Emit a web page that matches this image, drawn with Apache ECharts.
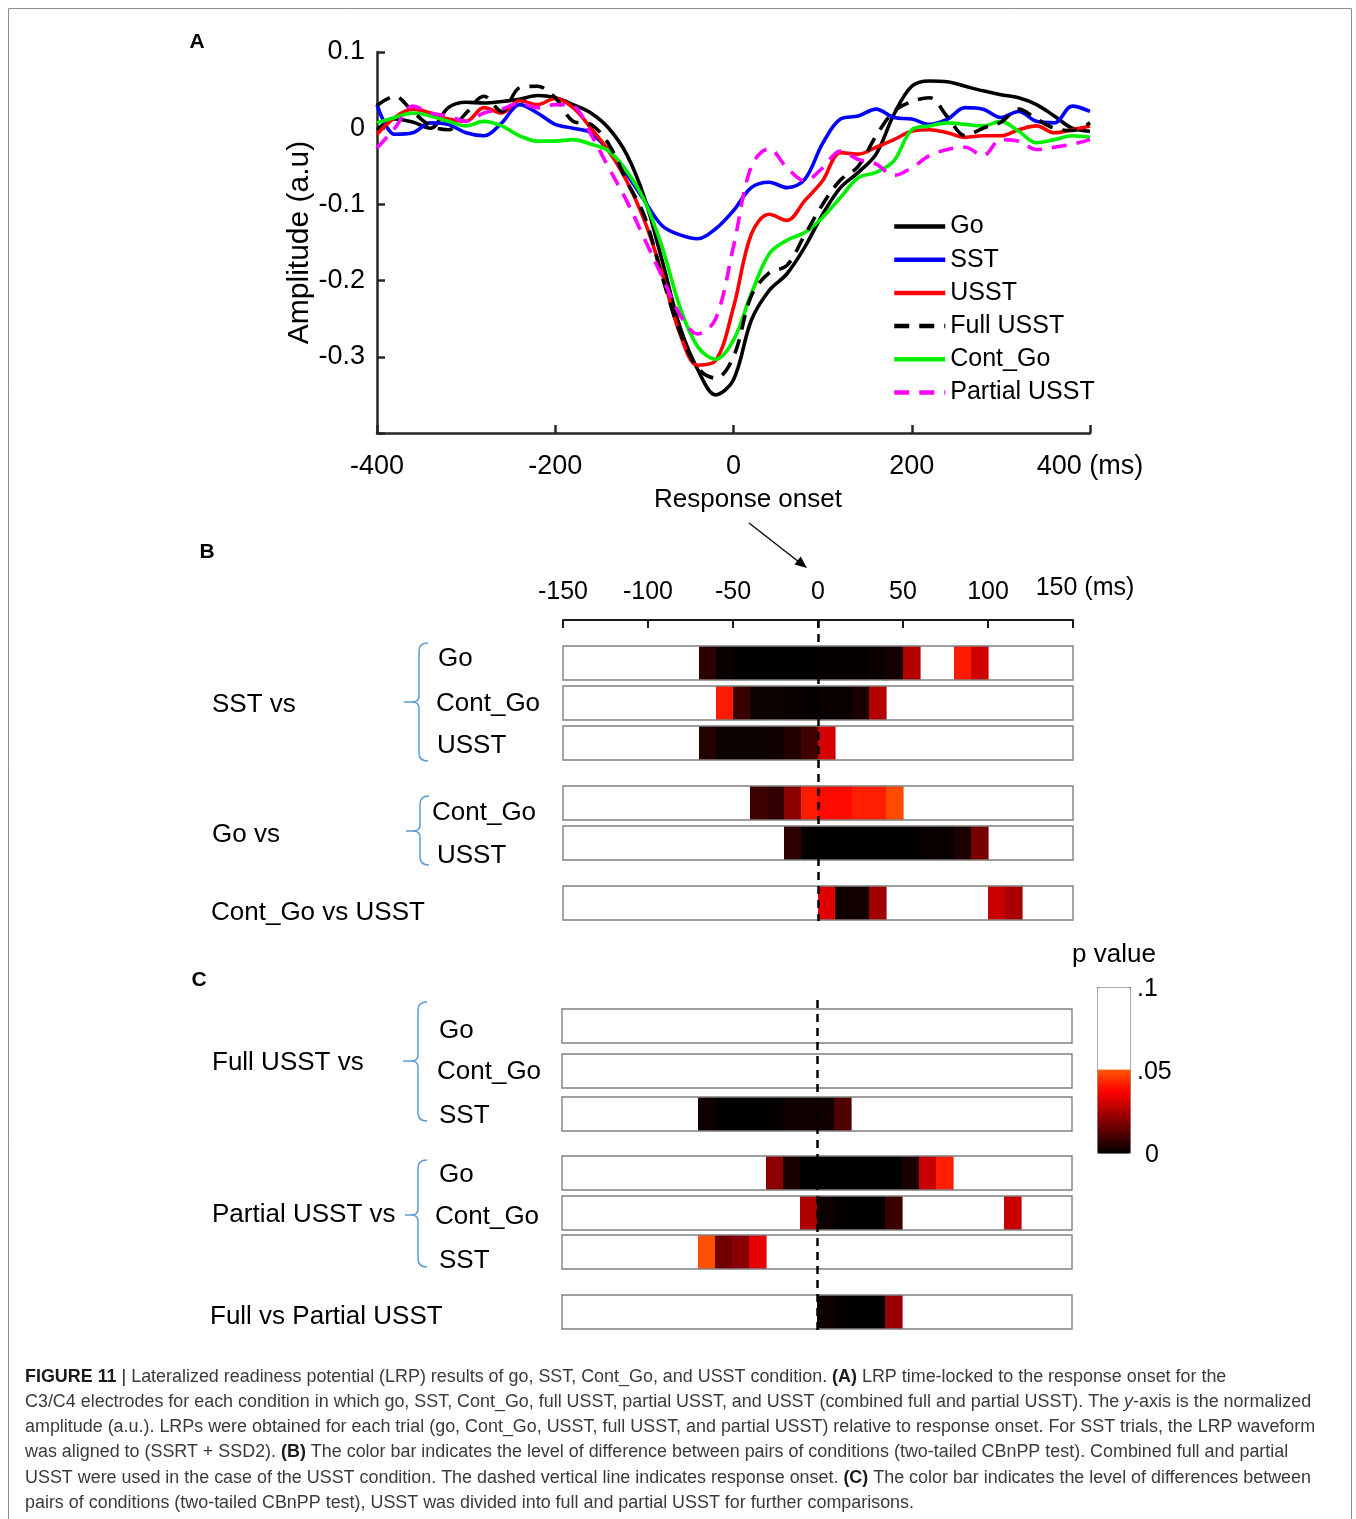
<!DOCTYPE html>
<html>
<head>
<meta charset="utf-8">
<script src="https://cdn.jsdelivr.net/npm/echarts@6/dist/echarts.min.js"></script>
<style>
  html, body { margin: 0; padding: 0; background: #ffffff; }
  #chart { width: 1356px; height: 1519px; }
</style>
</head>
<body>
<div id="chart"></div>
<script>
// ---------- Panel A: LRP waveforms (normalized amplitude), 20 ms steps ----------
const timesMs = [-400, -380, -360, -340, -320, -300, -280, -260, -240, -220, -200, -180, -160, -140, -120, -100, -80, -60, -40, -20,
  0, 20, 40, 60, 80, 100, 120, 140, 160, 180, 200, 220, 240, 260, 280, 300, 320, 340, 360, 380, 400];

const goAmp = [-0.002, 0.012, 0.008, 0.000, 0.027, 0.034, 0.033, 0.035, 0.038, 0.043, 0.040, 0.031, 0.020, 0.000, -0.034, -0.091, -0.174, -0.261, -0.317, -0.350,
  -0.330, -0.252, -0.213, -0.191, -0.156, -0.113, -0.078, -0.058, -0.034, 0.018, 0.055, 0.062, 0.061, 0.055, 0.049, 0.044, 0.040, 0.031, 0.016, 0.000, -0.004];
const sstAmp = [0.031, -0.008, -0.006, 0.007, 0.005, -0.006, -0.010, 0.007, 0.031, 0.020, 0.005, 0.000, -0.006, -0.030, -0.060, -0.095, -0.128, -0.140, -0.145, -0.132,
  -0.108, -0.078, -0.071, -0.078, -0.067, -0.020, 0.012, 0.016, 0.025, 0.014, 0.012, 0.005, 0.012, 0.027, 0.025, 0.014, 0.022, 0.009, 0.007, 0.029, 0.022];
const usstAmp = [-0.008, 0.014, 0.025, 0.020, 0.012, 0.009, 0.027, 0.020, 0.036, 0.031, 0.039, 0.027, 0.000, -0.030, -0.069, -0.121, -0.191, -0.270, -0.311, -0.305,
  -0.235, -0.139, -0.113, -0.121, -0.095, -0.069, -0.032, -0.034, -0.025, -0.015, -0.004, -0.002, -0.006, -0.012, -0.010, -0.010, -0.002, 0.003, -0.006, -0.002, 0.003];
const fullUsstAmp = [0.030, 0.042, 0.022, 0.003, -0.002, 0.020, 0.042, 0.022, 0.053, 0.055, 0.040, 0.009, 0.005, -0.021, -0.069, -0.115, -0.195, -0.268, -0.315, -0.328,
  -0.300, -0.220, -0.190, -0.180, -0.140, -0.100, -0.068, -0.050, -0.010, 0.022, 0.035, 0.040, 0.015, -0.010, 0.000, 0.008, 0.025, 0.012, 0.000, -0.003, 0.007];
const contGoAmp = [0.007, 0.014, 0.020, 0.016, 0.009, 0.003, 0.009, 0.003, -0.010, -0.017, -0.017, -0.015, -0.021, -0.030, -0.056, -0.095, -0.156, -0.235, -0.287, -0.303,
  -0.278, -0.217, -0.165, -0.147, -0.137, -0.117, -0.091, -0.065, -0.058, -0.043, -0.002, 0.003, 0.007, 0.005, 0.003, 0.009, -0.004, -0.019, -0.015, -0.010, -0.012];
const partialUsstAmp = [-0.026, 0.000, 0.029, 0.020, 0.016, 0.009, 0.020, 0.025, 0.033, 0.027, 0.031, 0.029, -0.008, -0.052, -0.095, -0.145, -0.195, -0.245, -0.270, -0.250,
  -0.155, -0.050, -0.027, -0.052, -0.069, -0.052, -0.030, -0.041, -0.047, -0.062, -0.052, -0.036, -0.028, -0.025, -0.036, -0.015, -0.017, -0.028, -0.025, -0.021, -0.015];

const conditionNames = ['Go', 'SST', 'USST', 'Full USST', 'Cont_Go', 'Partial USST'];
const conditionAmps = [goAmp, sstAmp, usstAmp, fullUsstAmp, contGoAmp, partialUsstAmp];
const xTicksA = ['-400', '-200', '0', '200', '400 (ms)'];

// ---------- Panels B and C: p values of pairwise tests in 10 ms bins (null = not significant) ----------
const binStartMs = [-150, -140, -130, -120, -110, -100, -90, -80, -70, -60, -50, -40, -30, -20, -10,
  0, 10, 20, 30, 40, 50, 60, 70, 80, 90, 100, 110, 120, 130, 140];
const binWidthMs = 10;

const pSstVsGo = [null, null, null, null, null, null, null, null, 0.0062, 0.0015, 0.0004, 0.0004, 0.0004, 0.0004, 0.0004,
  0.0006, 0.0006, 0.0006, 0.0015, 0.0030, 0.0266, null, null, 0.0413, 0.0306, null, null, null, null, null];
const pSstVsContGo = [null, null, null, null, null, null, null, null, null, 0.0413, 0.0086, 0.0018, 0.0018, 0.0015, 0.0007,
  0.0015, 0.0015, 0.0038, 0.0266, null, null, null, null, null, null, null, null, null, null, null];
const pSstVsUsst = [null, null, null, null, null, null, null, null, 0.0055, 0.0018, 0.0018, 0.0018, 0.0024, 0.0052, 0.0094,
  0.0313, null, null, null, null, null, null, null, null, null, null, null, null, null, null];
const pGoVsContGo = [null, null, null, null, null, null, null, null, null, null, null, 0.0088, 0.0071, 0.0206, 0.0413,
  0.0389, 0.0389, 0.0420, 0.0420, 0.0484, null, null, null, null, null, null, null, null, null, null];
const pGoVsUsst = [null, null, null, null, null, null, null, null, null, null, null, null, null, 0.0069, 0.0004,
  0.0004, 0.0004, 0.0004, 0.0004, 0.0004, 0.0004, 0.0012, 0.0015, 0.0043, 0.0176, null, null, null, null, null];
const pContGoVsUsst = [null, null, null, null, null, null, null, null, null, null, null, null, null, null, null,
  0.0330, 0.0026, 0.0026, 0.0235, null, null, null, null, null, null, 0.0294, 0.0247, null, null, null];

const pFullVsGo = [null, null, null, null, null, null, null, null, null, null, null, null, null, null, null,
  null, null, null, null, null, null, null, null, null, null, null, null, null, null, null];
const pFullVsContGo = [null, null, null, null, null, null, null, null, null, null, null, null, null, null, null,
  null, null, null, null, null, null, null, null, null, null, null, null, null, null, null];
const pFullVsSst = [null, null, null, null, null, null, null, null, 0.0024, 0.0004, 0.0004, 0.0004, 0.0004, 0.0024, 0.0024,
  0.0024, 0.0118, null, null, null, null, null, null, null, null, null, null, null, null, null];
const pPartialVsGo = [null, null, null, null, null, null, null, null, null, null, null, null, 0.0206, 0.0038, 0.0004,
  0.0004, 0.0004, 0.0004, 0.0004, 0.0004, 0.0038, 0.0294, 0.0420, null, null, null, null, null, null, null];
const pPartialVsContGo = [null, null, null, null, null, null, null, null, null, null, null, null, null, null, 0.0259,
  0.0019, 0.0004, 0.0004, 0.0004, 0.0086, null, null, null, null, null, null, 0.0294, null, null, null];
const pPartialVsSst = [null, null, null, null, null, null, null, null, 0.0492, 0.0165, 0.0200, 0.0341, null, null, null,
  null, null, null, null, null, null, null, null, null, null, null, null, null, null, null];
const pFullVsPartial = [null, null, null, null, null, null, null, null, null, null, null, null, null, null, null,
  0.0019, 0.0004, 0.0004, 0.0004, 0.0227, null, null, null, null, null, null, null, null, null, null];

const xTicksB = ['-150', '-100', '-50', '0', '50', '100', '150 (ms)'];
const groupNamesB = ['SST vs', 'Go vs', 'Cont_Go vs USST'];
const rowNamesB = ['Go', 'Cont_Go', 'USST', 'Cont_Go', 'USST'];
const groupNamesC = ['Full USST vs', 'Partial USST vs', 'Full vs Partial USST'];
const rowNamesC = ['Go', 'Cont_Go', 'SST', 'Go', 'Cont_Go', 'SST'];
const colorbarTicks = ['.1', '.05', '0'];

// ---------- layout ----------
const FONT = '"Liberation Sans", Arial, Helvetica, sans-serif';
const AXIS_COLOR = '#262626';
const BRACE_COLOR = '#5b9bd5';
const cellHeight = 34;                       // y units of panels B/C are pixels
const slotsB = [0, 40, 80, 140, 180, 240];   // row centres, offset from first row
const slotsC = [0, 45, 88, 147, 187, 226, 286];
const rowsB = [pSstVsGo, pSstVsContGo, pSstVsUsst, pGoVsContGo, pGoVsUsst, pContGoVsUsst];
const rowsC = [pFullVsGo, pFullVsContGo, pFullVsSst, pPartialVsGo, pPartialVsContGo, pPartialVsSst, pFullVsPartial];

const groupPosB = [[212, 705], [212, 835], [211, 913]];
const rowPosB = [[438, 659], [436, 704], [437, 746], [432, 813], [437, 856]];
const groupPosC = [[212, 1063], [212, 1215], [210, 1317]];
const rowPosC = [[439, 1031], [437, 1072], [439, 1116], [439, 1175], [435, 1217], [439, 1261]];
const colorbarTickPos = [[1137, 989], [1137, 1072], [1145, 1155]];

// braces: [vertical x, top y, middle y, bottom y, tip x]
const braces = [[419, 643, 702, 761, 404], [420, 796, 831, 865, 406], [418, 1002, 1061, 1121, 403], [418, 1160, 1215, 1267, 405]];

// "hot" colour map over p in [0, 0.1]; non-significant p (> .05) is white
function hotColor(x) {
  const r = Math.min(1, x / 0.375);
  const g = Math.max(0, Math.min(1, (x - 0.375) / 0.375));
  const b = Math.max(0, Math.min(1, (x - 0.75) / 0.25));
  return 'rgb(' + [r, g, b].map(c => Math.round(c * 255)).join(',') + ')';
}
const pColorStops = [];
for (let k = 0; k <= 100; k++) {
  const p = k / 1000;
  pColorStops.push(p <= 0.05 ? hotColor(p / 0.1) : '#ffffff');
}

function cellData(rows, slots) {
  const out = [];
  rows.forEach((row, r) => row.forEach((p, i) => {
    if (p !== null) out.push([binStartMs[i], slots[r], p]);
  }));
  return out;
}
function frameData(slots) { return slots.map(s => [0, s]); }

function renderCell(params, api) {
  const t = api.value(0), s = api.value(1);
  const a = api.coord([t, s]);
  const b = api.coord([t + binWidthMs, s]);
  const h = api.size([0, cellHeight])[1];
  return {
    type: 'rect',
    shape: { x: a[0], y: a[1] - h / 2, width: b[0] - a[0] + 0.6, height: h },
    style: { fill: api.visual('color') }
  };
}
function renderFrame(params, api) {
  const s = api.value(1);
  const a = api.coord([binStartMs[0], s]);
  const b = api.coord([binStartMs[binStartMs.length - 1] + binWidthMs, s]);
  const h = api.size([0, cellHeight])[1];
  return {
    type: 'rect',
    shape: { x: a[0], y: a[1] - h / 2, width: b[0] - a[0], height: h },
    style: { fill: 'none', stroke: '#808080', lineWidth: 1.4 }
  };
}

const onsetLine = {
  silent: true,
  symbol: ['none', 'none'],
  label: { show: false },
  lineStyle: { color: '#000', width: 2.5, type: [8, 6] },
  data: [{ xAxis: 0 }]
};

// ---------- caption ----------
const CAPTION_PX = 18;
const captionLines = [
  [['b', 'FIGURE 11'], ['n', ' '], ['bar', '|'], ['n', ' Lateralized readiness potential (LRP) results of go, SST, Cont_Go, and USST condition. '], ['b', '(A)'], ['n', ' LRP time-locked to the response onset for the']],
  [['n', 'C3/C4 electrodes for each condition in which go, SST, Cont_Go, full USST, partial USST, and USST (combined full and partial USST). The '], ['i', 'y'], ['n', '-axis is the normalized']],
  [['n', 'amplitude (a.u.). LRPs were obtained for each trial (go, Cont_Go, USST, full USST, and partial USST) relative to response onset. For SST trials, the LRP waveform']],
  [['n', 'was aligned to (SSRT + SSD2). '], ['b', '(B)'], ['n', ' The color bar indicates the level of difference between pairs of conditions (two-tailed CBnPP test). Combined full and partial']],
  [['n', 'USST were used in the case of the USST condition. The dashed vertical line indicates response onset. '], ['b', '(C)'], ['n', ' The color bar indicates the level of differences between']],
  [['n', 'pairs of conditions (two-tailed CBnPP test), USST was divided into full and partial USST for further comparisons.']]
];
const captionY = [1377, 1402, 1427, 1452, 1478, 1503];
const captionRich = {
  n: { fontSize: CAPTION_PX, fontFamily: FONT, fill: '#3a3a3a' },
  b: { fontSize: CAPTION_PX, fontFamily: FONT, fontWeight: 'bold', fill: '#1a1a1a' },
  i: { fontSize: CAPTION_PX, fontFamily: FONT, fontStyle: 'italic', fill: '#3a3a3a' },
  bar: { fontSize: CAPTION_PX, fontFamily: FONT, fill: '#1a1a1a' }
};
const measureCtx = document.createElement('canvas').getContext('2d');
function segFont(kind) {
  return (kind === 'i' ? 'italic ' : '') + (kind === 'b' ? 'bold ' : '') + CAPTION_PX + 'px ' + FONT;
}
function captionWidth(segs) {
  return segs.reduce((w, [k, s]) => { measureCtx.font = segFont(k); return w + measureCtx.measureText(s).width; }, 0);
}
const captionScaleX = (1311 - 25) / captionWidth(captionLines[4]);

// ---------- graphic overlay ----------
function label(text, x, y, size, extra) {
  return {
    type: 'text', x: x, y: y, silent: true,
    style: Object.assign({ text: text, fontSize: size, fontFamily: FONT, fill: '#000', align: 'left', verticalAlign: 'middle' }, extra || {})
  };
}
const braceStyle = { fill: 'none', stroke: BRACE_COLOR, lineWidth: 1.5 };
function curve(x1, y1, cx, cy, x2, y2) {
  return { type: 'bezierCurve', silent: true, shape: { x1: x1, y1: y1, cpx1: cx, cpy1: cy, x2: x2, y2: y2 }, style: braceStyle };
}
function segment(x1, y1, x2, y2) {
  return { type: 'line', silent: true, shape: { x1: x1, y1: y1, x2: x2, y2: y2 }, style: braceStyle };
}

const graphics = [];
graphics.push({ type: 'rect', silent: true, shape: { x: 8.5, y: 8.5, width: 1343, height: 1530 }, style: { fill: 'none', stroke: '#8c8c8c', lineWidth: 1 } });
graphics.push(label('A', 197, 42, 21, { fontWeight: 'bold', align: 'center' }));
graphics.push(label('B', 207, 552, 21, { fontWeight: 'bold', align: 'center' }));
graphics.push(label('C', 199, 980, 21, { fontWeight: 'bold', align: 'center' }));

// arrow from "Response onset" to the zero of panel B
graphics.push({ type: 'line', silent: true, shape: { x1: 749, y1: 523, x2: 799, y2: 562 }, style: { stroke: '#000', lineWidth: 1.3 } });
graphics.push({ type: 'polygon', silent: true, shape: { points: [[807, 568], [794.5, 564.4], [800.7, 556.6]] }, style: { fill: '#000' } });

groupNamesB.forEach((t, i) => graphics.push(label(t, groupPosB[i][0], groupPosB[i][1], 26)));
rowNamesB.forEach((t, i) => graphics.push(label(t, rowPosB[i][0], rowPosB[i][1], 26)));
groupNamesC.forEach((t, i) => graphics.push(label(t, groupPosC[i][0], groupPosC[i][1], 26)));
rowNamesC.forEach((t, i) => graphics.push(label(t, rowPosC[i][0], rowPosC[i][1], 26)));

braces.forEach(([x, top, mid, bot, tip]) => {
  graphics.push(curve(x + 9, top, x, top, x, top + 8));
  graphics.push(segment(x, top + 8, x, mid - 6));
  graphics.push(curve(x, mid - 6, x, mid, x - 7, mid));
  graphics.push(curve(x - 7, mid, x, mid, x, mid + 6));
  graphics.push(segment(x, mid + 6, x, bot - 8));
  graphics.push(curve(x, bot - 8, x, bot, x + 9, bot));
  graphics.push(segment(x - 7, mid, tip, mid));
});

graphics.push(label('p value', 1114, 955, 26, { align: 'center' }));
colorbarTicks.forEach((t, i) => graphics.push(label(t, colorbarTickPos[i][0], colorbarTickPos[i][1], 25)));

captionLines.forEach((segs, i) => {
  graphics.push({
    type: 'text', x: 25, y: captionY[i], scaleX: captionScaleX, silent: true,
    style: {
      text: segs.map(([k, s]) => '{' + k + '|' + s + '}').join(''),
      rich: captionRich, align: 'left', verticalAlign: 'middle', fontSize: CAPTION_PX, fontFamily: FONT
    }
  });
});

// ---------- option ----------
const lineColors = { 'Go': '#000000', 'SST': '#0000ff', 'USST': '#ff0000', 'Full USST': '#000000', 'Cont_Go': '#00ee00', 'Partial USST': '#ff00ff' };
const lineSeries = conditionNames.map((name, i) => {
  const dashed = name === 'Full USST' || name === 'Partial USST';
  return {
    name: name, type: 'line', xAxisIndex: 0, yAxisIndex: 0,
    data: timesMs.map((t, k) => [t, conditionAmps[i][k]]),
    smooth: 0.35, symbol: 'none', color: lineColors[name],
    lineStyle: { width: 3.6, color: lineColors[name], type: dashed ? [15, 10] : 'solid' },
    z: dashed ? 3 : 2
  };
});

const option = {
  animation: false,
  backgroundColor: '#ffffff',
  textStyle: { fontFamily: FONT },
  legend: {
    data: conditionNames, orient: 'vertical', left: 892, top: 210,
    itemWidth: 51, itemHeight: 14, itemGap: 0.2, padding: 0,
    itemStyle: { opacity: 0 },
    lineStyle: { width: 4.5 },
    textStyle: { fontSize: 25, color: '#000', lineHeight: 33, fontFamily: FONT },
    selectedMode: false
  },
  grid: [
    { left: 377, top: 52, width: 713, height: 381 },
    { left: 563, top: 620, width: 510, height: 301 },
    { left: 562, top: 1000, width: 510, height: 330 }
  ],
  xAxis: [
    {
      gridIndex: 0, type: 'value', min: -400, max: 400, interval: 200,
      name: 'Response onset', nameLocation: 'middle', nameGap: 54,
      nameTextStyle: { fontSize: 26, color: '#000', padding: [0, 0, 0, 29] },
      axisLine: { onZero: false, lineStyle: { color: AXIS_COLOR, width: 2.5 } },
      axisTick: { inside: true, length: 8, lineStyle: { color: AXIS_COLOR, width: 2.5 } },
      axisLabel: { fontSize: 27, color: '#000', margin: 20, formatter: (v) => xTicksA[Math.round((v + 400) / 200)] },
      splitLine: { show: false }
    },
    {
      gridIndex: 1, type: 'value', min: -150, max: 150, interval: 50, position: 'top',
      axisLine: { onZero: false, lineStyle: { color: '#1a1a1a', width: 2 } },
      axisTick: { inside: true, length: 8, lineStyle: { color: '#1a1a1a', width: 2 } },
      axisLabel: {
        fontSize: 25, color: '#000', margin: 15,
        formatter: (v) => {
          const t = xTicksB[Math.round((v + 150) / 50)];
          return v === 150 ? '{ms|' + t + '}' : t;
        },
        rich: { ms: { fontSize: 25, color: '#000', padding: [0, 0, 4, 24] } }
      },
      splitLine: { show: false }
    },
    { gridIndex: 2, type: 'value', min: -150, max: 150, show: false, axisLine: { onZero: false }, splitLine: { show: false } }
  ],
  yAxis: [
    {
      gridIndex: 0, type: 'value', min: -0.4, max: 0.1, interval: 0.1,
      name: 'Amplitude (a.u)', nameLocation: 'middle', nameGap: 62, nameRotate: 90, nameMoveOverlap: false,
      nameTextStyle: { fontSize: 30, color: '#000' },
      axisLine: { show: true, onZero: false, lineStyle: { color: AXIS_COLOR, width: 2.5 } },
      axisTick: { show: true, inside: true, length: 8, lineStyle: { color: AXIS_COLOR, width: 2.5 } },
      axisLabel: {
        fontSize: 27, color: '#000', margin: 12,
        formatter: (v) => { const r = Math.round(v * 10) / 10; return r === -0.4 ? '' : String(r); }
      },
      splitLine: { show: false }
    },
    { gridIndex: 1, type: 'value', min: -43, max: 258, inverse: true, show: false, splitLine: { show: false } },
    { gridIndex: 2, type: 'value', min: -26, max: 304, inverse: true, show: false, splitLine: { show: false } }
  ],
  visualMap: [{
    type: 'continuous', min: 0, max: 0.1, dimension: 2, seriesIndex: [6, 8],
    orient: 'vertical', left: 1097, top: 987, itemWidth: 33, itemHeight: 166,
    calculable: false, hoverLink: false, padding: 0, text: null,
    borderColor: '#7f7f7f', borderWidth: 1,
    inRange: { color: pColorStops }
  }],
  series: lineSeries.concat([
    {
      type: 'custom', name: 'cellsB', xAxisIndex: 1, yAxisIndex: 1, coordinateSystem: 'cartesian2d',
      data: cellData(rowsB, slotsB), encode: { x: 0, y: 1 }, renderItem: renderCell, silent: true, z: 2
    },
    {
      type: 'custom', name: 'framesB', xAxisIndex: 1, yAxisIndex: 1, coordinateSystem: 'cartesian2d',
      data: frameData(slotsB), encode: { x: 0, y: 1 }, renderItem: renderFrame, silent: true, z: 3,
      markLine: onsetLine
    },
    {
      type: 'custom', name: 'cellsC', xAxisIndex: 2, yAxisIndex: 2, coordinateSystem: 'cartesian2d',
      data: cellData(rowsC, slotsC), encode: { x: 0, y: 1 }, renderItem: renderCell, silent: true, z: 2
    },
    {
      type: 'custom', name: 'framesC', xAxisIndex: 2, yAxisIndex: 2, coordinateSystem: 'cartesian2d',
      data: frameData(slotsC), encode: { x: 0, y: 1 }, renderItem: renderFrame, silent: true, z: 3,
      markLine: onsetLine
    }
  ]),
  graphic: { elements: graphics }
};

const chart = echarts.init(document.getElementById('chart'), null, { renderer: 'canvas' });
chart.setOption(option);
</script>
</body>
</html>
